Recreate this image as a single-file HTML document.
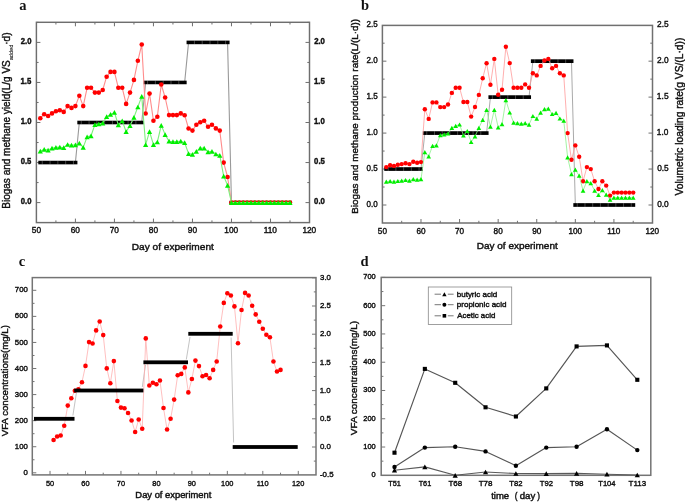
<!DOCTYPE html>
<html><head><meta charset="utf-8"><title>Figure</title>
<style>
html,body{margin:0;padding:0;background:#fff;width:685px;height:503px;overflow:hidden;}
svg{display:block;font-family:"Liberation Sans", sans-serif;} text{filter:grayscale(1);}
</style></head><body>
<svg width="685" height="503" viewBox="0 0 685 503">
<rect width="685" height="503" fill="#fff"/>
<rect x="36.4" y="22.3" width="273.1" height="200.3" fill="none" stroke="#6e6e6e" stroke-width="1.45"/>
<line x1="55.91" y1="222.6" x2="55.91" y2="220.4" stroke="#6e6e6e" stroke-width="1" />
<line x1="55.91" y1="22.3" x2="55.91" y2="24.5" stroke="#6e6e6e" stroke-width="1" />
<line x1="75.41" y1="222.6" x2="75.41" y2="218.6" stroke="#6e6e6e" stroke-width="1" />
<line x1="75.41" y1="22.3" x2="75.41" y2="26.3" stroke="#6e6e6e" stroke-width="1" />
<line x1="94.92" y1="222.6" x2="94.92" y2="220.4" stroke="#6e6e6e" stroke-width="1" />
<line x1="94.92" y1="22.3" x2="94.92" y2="24.5" stroke="#6e6e6e" stroke-width="1" />
<line x1="114.43" y1="222.6" x2="114.43" y2="218.6" stroke="#6e6e6e" stroke-width="1" />
<line x1="114.43" y1="22.3" x2="114.43" y2="26.3" stroke="#6e6e6e" stroke-width="1" />
<line x1="133.94" y1="222.6" x2="133.94" y2="220.4" stroke="#6e6e6e" stroke-width="1" />
<line x1="133.94" y1="22.3" x2="133.94" y2="24.5" stroke="#6e6e6e" stroke-width="1" />
<line x1="153.44" y1="222.6" x2="153.44" y2="218.6" stroke="#6e6e6e" stroke-width="1" />
<line x1="153.44" y1="22.3" x2="153.44" y2="26.3" stroke="#6e6e6e" stroke-width="1" />
<line x1="172.95" y1="222.6" x2="172.95" y2="220.4" stroke="#6e6e6e" stroke-width="1" />
<line x1="172.95" y1="22.3" x2="172.95" y2="24.5" stroke="#6e6e6e" stroke-width="1" />
<line x1="192.46" y1="222.6" x2="192.46" y2="218.6" stroke="#6e6e6e" stroke-width="1" />
<line x1="192.46" y1="22.3" x2="192.46" y2="26.3" stroke="#6e6e6e" stroke-width="1" />
<line x1="211.96" y1="222.6" x2="211.96" y2="220.4" stroke="#6e6e6e" stroke-width="1" />
<line x1="211.96" y1="22.3" x2="211.96" y2="24.5" stroke="#6e6e6e" stroke-width="1" />
<line x1="231.47" y1="222.6" x2="231.47" y2="218.6" stroke="#6e6e6e" stroke-width="1" />
<line x1="231.47" y1="22.3" x2="231.47" y2="26.3" stroke="#6e6e6e" stroke-width="1" />
<line x1="250.98" y1="222.6" x2="250.98" y2="220.4" stroke="#6e6e6e" stroke-width="1" />
<line x1="250.98" y1="22.3" x2="250.98" y2="24.5" stroke="#6e6e6e" stroke-width="1" />
<line x1="270.49" y1="222.6" x2="270.49" y2="218.6" stroke="#6e6e6e" stroke-width="1" />
<line x1="270.49" y1="22.3" x2="270.49" y2="26.3" stroke="#6e6e6e" stroke-width="1" />
<line x1="289.99" y1="222.6" x2="289.99" y2="220.4" stroke="#6e6e6e" stroke-width="1" />
<line x1="289.99" y1="22.3" x2="289.99" y2="24.5" stroke="#6e6e6e" stroke-width="1" />
<text x="31.77" y="233.3" font-size="8.31" font-weight="normal" fill="#111" stroke="#111" stroke-width="0.4">50</text>
<text x="70.74" y="233.3" font-size="8.31" font-weight="normal" fill="#111" stroke="#111" stroke-width="0.4">60</text>
<text x="109.75" y="233.3" font-size="8.31" font-weight="normal" fill="#111" stroke="#111" stroke-width="0.4">70</text>
<text x="148.8" y="233.3" font-size="8.31" font-weight="normal" fill="#111" stroke="#111" stroke-width="0.4">80</text>
<text x="187.79" y="233.3" font-size="8.31" font-weight="normal" fill="#111" stroke="#111" stroke-width="0.4">90</text>
<text x="224.37" y="233.3" font-size="8.31" font-weight="normal" fill="#111" stroke="#111" stroke-width="0.4">100</text>
<text x="263.7" y="233.3" font-size="8.31" font-weight="normal" fill="#111" stroke="#111" stroke-width="0.4">110</text>
<text x="302.4" y="233.3" font-size="8.31" font-weight="normal" fill="#111" stroke="#111" stroke-width="0.4">120</text>
<line x1="36.4" y1="202.6" x2="40.4" y2="202.6" stroke="#6e6e6e" stroke-width="1" />
<line x1="309.5" y1="202.6" x2="305.5" y2="202.6" stroke="#6e6e6e" stroke-width="1" />
<line x1="36.4" y1="182.57" x2="38.6" y2="182.57" stroke="#6e6e6e" stroke-width="1" />
<line x1="309.5" y1="182.57" x2="307.3" y2="182.57" stroke="#6e6e6e" stroke-width="1" />
<line x1="36.4" y1="162.55" x2="40.4" y2="162.55" stroke="#6e6e6e" stroke-width="1" />
<line x1="309.5" y1="162.55" x2="305.5" y2="162.55" stroke="#6e6e6e" stroke-width="1" />
<line x1="36.4" y1="142.53" x2="38.6" y2="142.53" stroke="#6e6e6e" stroke-width="1" />
<line x1="309.5" y1="142.53" x2="307.3" y2="142.53" stroke="#6e6e6e" stroke-width="1" />
<line x1="36.4" y1="122.5" x2="40.4" y2="122.5" stroke="#6e6e6e" stroke-width="1" />
<line x1="309.5" y1="122.5" x2="305.5" y2="122.5" stroke="#6e6e6e" stroke-width="1" />
<line x1="36.4" y1="102.47" x2="38.6" y2="102.47" stroke="#6e6e6e" stroke-width="1" />
<line x1="309.5" y1="102.47" x2="307.3" y2="102.47" stroke="#6e6e6e" stroke-width="1" />
<line x1="36.4" y1="82.45" x2="40.4" y2="82.45" stroke="#6e6e6e" stroke-width="1" />
<line x1="309.5" y1="82.45" x2="305.5" y2="82.45" stroke="#6e6e6e" stroke-width="1" />
<line x1="36.4" y1="62.43" x2="38.6" y2="62.43" stroke="#6e6e6e" stroke-width="1" />
<line x1="309.5" y1="62.43" x2="307.3" y2="62.43" stroke="#6e6e6e" stroke-width="1" />
<line x1="36.4" y1="42.4" x2="40.4" y2="42.4" stroke="#6e6e6e" stroke-width="1" />
<line x1="309.5" y1="42.4" x2="305.5" y2="42.4" stroke="#6e6e6e" stroke-width="1" />
<line x1="36.4" y1="22.38" x2="38.6" y2="22.38" stroke="#6e6e6e" stroke-width="1" />
<line x1="309.5" y1="22.38" x2="307.3" y2="22.38" stroke="#6e6e6e" stroke-width="1" />
<text x="20.73" y="204.4" font-size="8.17" font-weight="bold" fill="#111" stroke="#111" stroke-width="0.4" textLength="10.69" lengthAdjust="spacingAndGlyphs">0.0</text>
<text x="314.09" y="204.4" font-size="8.17" font-weight="bold" fill="#111" stroke="#111" stroke-width="0.4" textLength="10.79" lengthAdjust="spacingAndGlyphs">0.0</text>
<text x="20.63" y="164.35" font-size="8.17" font-weight="bold" fill="#111" stroke="#111" stroke-width="0.4" textLength="10.69" lengthAdjust="spacingAndGlyphs">0.5</text>
<text x="314.09" y="164.35" font-size="8.17" font-weight="bold" fill="#111" stroke="#111" stroke-width="0.4" textLength="10.79" lengthAdjust="spacingAndGlyphs">0.5</text>
<text x="20.73" y="124.3" font-size="8.17" font-weight="bold" fill="#111" stroke="#111" stroke-width="0.4" textLength="10.69" lengthAdjust="spacingAndGlyphs">1.0</text>
<text x="313.91" y="124.3" font-size="8.17" font-weight="bold" fill="#111" stroke="#111" stroke-width="0.4" textLength="10.79" lengthAdjust="spacingAndGlyphs">1.0</text>
<text x="20.48" y="84.25" font-size="8.28" font-weight="bold" fill="#111" stroke="#111" stroke-width="0.4" textLength="10.84" lengthAdjust="spacingAndGlyphs">1.5</text>
<text x="313.9" y="84.25" font-size="8.28" font-weight="bold" fill="#111" stroke="#111" stroke-width="0.4" textLength="10.95" lengthAdjust="spacingAndGlyphs">1.5</text>
<text x="20.73" y="44.2" font-size="8.17" font-weight="bold" fill="#111" stroke="#111" stroke-width="0.4" textLength="10.69" lengthAdjust="spacingAndGlyphs">2.0</text>
<text x="314.13" y="44.2" font-size="8.17" font-weight="bold" fill="#111" stroke="#111" stroke-width="0.4" textLength="10.79" lengthAdjust="spacingAndGlyphs">2.0</text>
<text x="131.77" y="249.5" font-size="9.16" font-weight="normal" fill="#111" stroke="#111" stroke-width="0.4" textLength="82.1" lengthAdjust="spacingAndGlyphs">Day of experiment</text>
<text transform="translate(9.5 120.6) rotate(-90)" font-size="10" font-family='"Liberation Sans", sans-serif' fill="#111" stroke="#111" stroke-width="0.4" text-anchor="middle">Biogas and methane yield(L/g VS<tspan font-size="5.6" dy="3.4" stroke-width="0.1">added</tspan><tspan dy="-3.4">&#183;d)</tspan></text>
<text x="19.2" y="9.9" font-size="14.5" text-anchor="start" font-weight="bold" font-family='"Liberation Serif", serif' fill="#111" >a</text>
<polyline fill="none" stroke="#999" stroke-width="1.1" stroke-linejoin="round" points="40.3,162.55 44.2,162.55 48.1,162.55 52.01,162.55 55.91,162.55 59.81,162.55 63.71,162.55 67.61,162.55 71.51,162.55 75.41,162.55 79.32,122.5 83.22,122.5 87.12,122.5 91.02,122.5 94.92,122.5 98.82,122.5 102.72,122.5 106.63,122.5 110.53,122.5 114.43,122.5 118.33,122.5 122.23,122.5 126.13,122.5 130.03,122.5 133.94,122.5 137.84,122.5 141.74,122.5 145.64,82.45 149.54,82.45 153.44,82.45 157.34,82.45 161.25,82.45 165.15,82.45 169.05,82.45 172.95,82.45 176.85,82.45 180.75,82.45 184.65,82.45 188.56,42.4 192.46,42.4 196.36,42.4 200.26,42.4 204.16,42.4 208.06,42.4 211.96,42.4 215.87,42.4 219.77,42.4 223.67,42.4 227.57,42.4 231.47,202.6 235.37,202.6 239.27,202.6 243.18,202.6 247.08,202.6 250.98,202.6 254.88,202.6 258.78,202.6 262.68,202.6 266.58,202.6 270.49,202.6 274.39,202.6 278.29,202.6 282.19,202.6 286.09,202.6 289.99,202.6" />
<rect x="38.3" y="160.75" width="39.11" height="3.6" fill="#000"/>
<line x1="42.25" y1="160.75" x2="42.25" y2="164.35" stroke="#fff" stroke-opacity="0.45" stroke-width="0.6"/>
<line x1="50.05" y1="160.75" x2="50.05" y2="164.35" stroke="#fff" stroke-opacity="0.45" stroke-width="0.6"/>
<line x1="57.86" y1="160.75" x2="57.86" y2="164.35" stroke="#fff" stroke-opacity="0.45" stroke-width="0.6"/>
<line x1="65.66" y1="160.75" x2="65.66" y2="164.35" stroke="#fff" stroke-opacity="0.45" stroke-width="0.6"/>
<line x1="73.46" y1="160.75" x2="73.46" y2="164.35" stroke="#fff" stroke-opacity="0.45" stroke-width="0.6"/>
<rect x="77.32" y="120.7" width="66.42" height="3.6" fill="#000"/>
<line x1="81.27" y1="120.7" x2="81.27" y2="124.3" stroke="#fff" stroke-opacity="0.45" stroke-width="0.6"/>
<line x1="89.07" y1="120.7" x2="89.07" y2="124.3" stroke="#fff" stroke-opacity="0.45" stroke-width="0.6"/>
<line x1="96.87" y1="120.7" x2="96.87" y2="124.3" stroke="#fff" stroke-opacity="0.45" stroke-width="0.6"/>
<line x1="104.67" y1="120.7" x2="104.67" y2="124.3" stroke="#fff" stroke-opacity="0.45" stroke-width="0.6"/>
<line x1="112.48" y1="120.7" x2="112.48" y2="124.3" stroke="#fff" stroke-opacity="0.45" stroke-width="0.6"/>
<line x1="120.28" y1="120.7" x2="120.28" y2="124.3" stroke="#fff" stroke-opacity="0.45" stroke-width="0.6"/>
<line x1="128.08" y1="120.7" x2="128.08" y2="124.3" stroke="#fff" stroke-opacity="0.45" stroke-width="0.6"/>
<line x1="135.89" y1="120.7" x2="135.89" y2="124.3" stroke="#fff" stroke-opacity="0.45" stroke-width="0.6"/>
<rect x="143.64" y="80.65" width="43.01" height="3.6" fill="#000"/>
<line x1="147.59" y1="80.65" x2="147.59" y2="84.25" stroke="#fff" stroke-opacity="0.45" stroke-width="0.6"/>
<line x1="155.39" y1="80.65" x2="155.39" y2="84.25" stroke="#fff" stroke-opacity="0.45" stroke-width="0.6"/>
<line x1="163.2" y1="80.65" x2="163.2" y2="84.25" stroke="#fff" stroke-opacity="0.45" stroke-width="0.6"/>
<line x1="171" y1="80.65" x2="171" y2="84.25" stroke="#fff" stroke-opacity="0.45" stroke-width="0.6"/>
<line x1="178.8" y1="80.65" x2="178.8" y2="84.25" stroke="#fff" stroke-opacity="0.45" stroke-width="0.6"/>
<rect x="186.56" y="40.6" width="43.01" height="3.6" fill="#000"/>
<line x1="194.41" y1="40.6" x2="194.41" y2="44.2" stroke="#fff" stroke-opacity="0.45" stroke-width="0.6"/>
<line x1="202.21" y1="40.6" x2="202.21" y2="44.2" stroke="#fff" stroke-opacity="0.45" stroke-width="0.6"/>
<line x1="210.01" y1="40.6" x2="210.01" y2="44.2" stroke="#fff" stroke-opacity="0.45" stroke-width="0.6"/>
<line x1="217.82" y1="40.6" x2="217.82" y2="44.2" stroke="#fff" stroke-opacity="0.45" stroke-width="0.6"/>
<line x1="225.62" y1="40.6" x2="225.62" y2="44.2" stroke="#fff" stroke-opacity="0.45" stroke-width="0.6"/>
<rect x="229.47" y="200.8" width="62.52" height="3.6" fill="#000"/>
<line x1="233.42" y1="200.8" x2="233.42" y2="204.4" stroke="#fff" stroke-opacity="0.45" stroke-width="0.6"/>
<line x1="241.23" y1="200.8" x2="241.23" y2="204.4" stroke="#fff" stroke-opacity="0.45" stroke-width="0.6"/>
<line x1="249.03" y1="200.8" x2="249.03" y2="204.4" stroke="#fff" stroke-opacity="0.45" stroke-width="0.6"/>
<line x1="256.83" y1="200.8" x2="256.83" y2="204.4" stroke="#fff" stroke-opacity="0.45" stroke-width="0.6"/>
<line x1="264.63" y1="200.8" x2="264.63" y2="204.4" stroke="#fff" stroke-opacity="0.45" stroke-width="0.6"/>
<line x1="272.44" y1="200.8" x2="272.44" y2="204.4" stroke="#fff" stroke-opacity="0.45" stroke-width="0.6"/>
<line x1="280.24" y1="200.8" x2="280.24" y2="204.4" stroke="#fff" stroke-opacity="0.45" stroke-width="0.6"/>
<line x1="288.04" y1="200.8" x2="288.04" y2="204.4" stroke="#fff" stroke-opacity="0.45" stroke-width="0.6"/>
<polyline fill="none" stroke="#ff8c8c" stroke-width="1.1" stroke-linejoin="round" points="40.3,118.2 44.2,114.2 48.1,116 52.01,113.4 55.91,111.3 59.81,110.3 63.71,111.9 67.61,106.1 71.51,107.9 75.41,106.1 79.32,95.8 83.22,106.1 87.12,87.8 91.02,87.8 94.92,92.6 98.82,92.6 102.72,90 106.63,76.7 110.53,71.9 114.43,71.9 118.33,87.8 122.23,87.8 126.13,103.9 130.03,92.6 133.94,79.9 137.84,60.8 141.74,44.5 145.64,113.5 149.54,93.6 153.44,120.7 157.34,116.7 161.25,84.5 165.15,97.5 169.05,115.1 172.95,115.1 176.85,115.1 180.75,113.4 184.65,115.2 188.56,128.5 192.46,130.6 196.36,124.7 200.26,122.3 204.16,120.8 208.06,126.7 211.96,124.7 215.87,128.4 219.77,130.6 223.67,162.6 227.57,177 231.47,202.6 235.37,202.6 239.27,202.6 243.18,202.6 247.08,202.6 250.98,202.6 254.88,202.6 258.78,202.6 262.68,202.6 266.58,202.6 270.49,202.6 274.39,202.6 278.29,202.6 282.19,202.6 286.09,202.6 289.99,202.6" />
<circle cx="40.3" cy="118.2" r="2.3" fill="#ff0000"/>
<circle cx="44.2" cy="114.2" r="2.3" fill="#ff0000"/>
<circle cx="48.1" cy="116" r="2.3" fill="#ff0000"/>
<circle cx="52.01" cy="113.4" r="2.3" fill="#ff0000"/>
<circle cx="55.91" cy="111.3" r="2.3" fill="#ff0000"/>
<circle cx="59.81" cy="110.3" r="2.3" fill="#ff0000"/>
<circle cx="63.71" cy="111.9" r="2.3" fill="#ff0000"/>
<circle cx="67.61" cy="106.1" r="2.3" fill="#ff0000"/>
<circle cx="71.51" cy="107.9" r="2.3" fill="#ff0000"/>
<circle cx="75.41" cy="106.1" r="2.3" fill="#ff0000"/>
<circle cx="79.32" cy="95.8" r="2.3" fill="#ff0000"/>
<circle cx="83.22" cy="106.1" r="2.3" fill="#ff0000"/>
<circle cx="87.12" cy="87.8" r="2.3" fill="#ff0000"/>
<circle cx="91.02" cy="87.8" r="2.3" fill="#ff0000"/>
<circle cx="94.92" cy="92.6" r="2.3" fill="#ff0000"/>
<circle cx="98.82" cy="92.6" r="2.3" fill="#ff0000"/>
<circle cx="102.72" cy="90" r="2.3" fill="#ff0000"/>
<circle cx="106.63" cy="76.7" r="2.3" fill="#ff0000"/>
<circle cx="110.53" cy="71.9" r="2.3" fill="#ff0000"/>
<circle cx="114.43" cy="71.9" r="2.3" fill="#ff0000"/>
<circle cx="118.33" cy="87.8" r="2.3" fill="#ff0000"/>
<circle cx="122.23" cy="87.8" r="2.3" fill="#ff0000"/>
<circle cx="126.13" cy="103.9" r="2.3" fill="#ff0000"/>
<circle cx="130.03" cy="92.6" r="2.3" fill="#ff0000"/>
<circle cx="133.94" cy="79.9" r="2.3" fill="#ff0000"/>
<circle cx="137.84" cy="60.8" r="2.3" fill="#ff0000"/>
<circle cx="141.74" cy="44.5" r="2.3" fill="#ff0000"/>
<circle cx="145.64" cy="113.5" r="2.3" fill="#ff0000"/>
<circle cx="149.54" cy="93.6" r="2.3" fill="#ff0000"/>
<circle cx="153.44" cy="120.7" r="2.3" fill="#ff0000"/>
<circle cx="157.34" cy="116.7" r="2.3" fill="#ff0000"/>
<circle cx="161.25" cy="84.5" r="2.3" fill="#ff0000"/>
<circle cx="165.15" cy="97.5" r="2.3" fill="#ff0000"/>
<circle cx="169.05" cy="115.1" r="2.3" fill="#ff0000"/>
<circle cx="172.95" cy="115.1" r="2.3" fill="#ff0000"/>
<circle cx="176.85" cy="115.1" r="2.3" fill="#ff0000"/>
<circle cx="180.75" cy="113.4" r="2.3" fill="#ff0000"/>
<circle cx="184.65" cy="115.2" r="2.3" fill="#ff0000"/>
<circle cx="188.56" cy="128.5" r="2.3" fill="#ff0000"/>
<circle cx="192.46" cy="130.6" r="2.3" fill="#ff0000"/>
<circle cx="196.36" cy="124.7" r="2.3" fill="#ff0000"/>
<circle cx="200.26" cy="122.3" r="2.3" fill="#ff0000"/>
<circle cx="204.16" cy="120.8" r="2.3" fill="#ff0000"/>
<circle cx="208.06" cy="126.7" r="2.3" fill="#ff0000"/>
<circle cx="211.96" cy="124.7" r="2.3" fill="#ff0000"/>
<circle cx="215.87" cy="128.4" r="2.3" fill="#ff0000"/>
<circle cx="219.77" cy="130.6" r="2.3" fill="#ff0000"/>
<circle cx="223.67" cy="162.6" r="2.3" fill="#ff0000"/>
<circle cx="227.57" cy="177" r="2.3" fill="#ff0000"/>
<circle cx="231.47" cy="202.6" r="2.3" fill="#ff0000"/>
<circle cx="235.37" cy="202.6" r="2.3" fill="#ff0000"/>
<circle cx="239.27" cy="202.6" r="2.3" fill="#ff0000"/>
<circle cx="243.18" cy="202.6" r="2.3" fill="#ff0000"/>
<circle cx="247.08" cy="202.6" r="2.3" fill="#ff0000"/>
<circle cx="250.98" cy="202.6" r="2.3" fill="#ff0000"/>
<circle cx="254.88" cy="202.6" r="2.3" fill="#ff0000"/>
<circle cx="258.78" cy="202.6" r="2.3" fill="#ff0000"/>
<circle cx="262.68" cy="202.6" r="2.3" fill="#ff0000"/>
<circle cx="266.58" cy="202.6" r="2.3" fill="#ff0000"/>
<circle cx="270.49" cy="202.6" r="2.3" fill="#ff0000"/>
<circle cx="274.39" cy="202.6" r="2.3" fill="#ff0000"/>
<circle cx="278.29" cy="202.6" r="2.3" fill="#ff0000"/>
<circle cx="282.19" cy="202.6" r="2.3" fill="#ff0000"/>
<circle cx="286.09" cy="202.6" r="2.3" fill="#ff0000"/>
<circle cx="289.99" cy="202.6" r="2.3" fill="#ff0000"/>
<polyline fill="none" stroke="#7cf07c" stroke-width="1.1" stroke-linejoin="round" points="40.3,151.2 44.2,149.3 48.1,150.1 52.01,148.2 55.91,147.4 59.81,147.1 63.71,147.7 67.61,144.5 71.51,145.2 75.41,144.8 79.32,143.2 83.22,147.4 87.12,136.9 91.02,135.8 94.92,124.6 98.82,123.9 102.72,123.1 106.63,116.7 110.53,114.4 114.43,112.4 118.33,124.8 122.23,120.9 126.13,131.7 130.03,125.6 133.94,117.4 137.84,107 141.74,96.4 145.64,144.7 149.54,131.7 153.44,144.7 157.34,142 161.25,125.3 165.15,134.6 169.05,141.2 172.95,141.6 176.85,141.6 180.75,141.2 184.65,142.7 188.56,153.6 192.46,154.3 196.36,151.4 200.26,148.1 204.16,148.1 208.06,151.8 211.96,151.4 215.87,154 219.77,155.3 223.67,176.1 227.57,185.3 231.47,202.6 235.37,202.6 239.27,202.6 243.18,202.6 247.08,202.6 250.98,202.6 254.88,202.6 258.78,202.6 262.68,202.6 266.58,202.6 270.49,202.6 274.39,202.6 278.29,202.6 282.19,202.6 286.09,202.6 289.99,202.6" />
<path d="M40.3 148.86L42.9 153.54L37.7 153.54Z" fill="#00ee00"/>
<path d="M44.2 146.96L46.8 151.64L41.6 151.64Z" fill="#00ee00"/>
<path d="M48.1 147.76L50.7 152.44L45.5 152.44Z" fill="#00ee00"/>
<path d="M52.01 145.86L54.61 150.54L49.41 150.54Z" fill="#00ee00"/>
<path d="M55.91 145.06L58.51 149.74L53.31 149.74Z" fill="#00ee00"/>
<path d="M59.81 144.76L62.41 149.44L57.21 149.44Z" fill="#00ee00"/>
<path d="M63.71 145.36L66.31 150.04L61.11 150.04Z" fill="#00ee00"/>
<path d="M67.61 142.16L70.21 146.84L65.01 146.84Z" fill="#00ee00"/>
<path d="M71.51 142.86L74.11 147.54L68.91 147.54Z" fill="#00ee00"/>
<path d="M75.41 142.46L78.01 147.14L72.81 147.14Z" fill="#00ee00"/>
<path d="M79.32 140.86L81.92 145.54L76.72 145.54Z" fill="#00ee00"/>
<path d="M83.22 145.06L85.82 149.74L80.62 149.74Z" fill="#00ee00"/>
<path d="M87.12 134.56L89.72 139.24L84.52 139.24Z" fill="#00ee00"/>
<path d="M91.02 133.46L93.62 138.14L88.42 138.14Z" fill="#00ee00"/>
<path d="M94.92 122.26L97.52 126.94L92.32 126.94Z" fill="#00ee00"/>
<path d="M98.82 121.56L101.42 126.24L96.22 126.24Z" fill="#00ee00"/>
<path d="M102.72 120.76L105.32 125.44L100.12 125.44Z" fill="#00ee00"/>
<path d="M106.63 114.36L109.23 119.04L104.03 119.04Z" fill="#00ee00"/>
<path d="M110.53 112.06L113.13 116.74L107.93 116.74Z" fill="#00ee00"/>
<path d="M114.43 110.06L117.03 114.74L111.83 114.74Z" fill="#00ee00"/>
<path d="M118.33 122.46L120.93 127.14L115.73 127.14Z" fill="#00ee00"/>
<path d="M122.23 118.56L124.83 123.24L119.63 123.24Z" fill="#00ee00"/>
<path d="M126.13 129.36L128.73 134.04L123.53 134.04Z" fill="#00ee00"/>
<path d="M130.03 123.26L132.63 127.94L127.43 127.94Z" fill="#00ee00"/>
<path d="M133.94 115.06L136.54 119.74L131.34 119.74Z" fill="#00ee00"/>
<path d="M137.84 104.66L140.44 109.34L135.24 109.34Z" fill="#00ee00"/>
<path d="M141.74 94.06L144.34 98.74L139.14 98.74Z" fill="#00ee00"/>
<path d="M145.64 142.36L148.24 147.04L143.04 147.04Z" fill="#00ee00"/>
<path d="M149.54 129.36L152.14 134.04L146.94 134.04Z" fill="#00ee00"/>
<path d="M153.44 142.36L156.04 147.04L150.84 147.04Z" fill="#00ee00"/>
<path d="M157.34 139.66L159.94 144.34L154.74 144.34Z" fill="#00ee00"/>
<path d="M161.25 122.96L163.85 127.64L158.65 127.64Z" fill="#00ee00"/>
<path d="M165.15 132.26L167.75 136.94L162.55 136.94Z" fill="#00ee00"/>
<path d="M169.05 138.86L171.65 143.54L166.45 143.54Z" fill="#00ee00"/>
<path d="M172.95 139.26L175.55 143.94L170.35 143.94Z" fill="#00ee00"/>
<path d="M176.85 139.26L179.45 143.94L174.25 143.94Z" fill="#00ee00"/>
<path d="M180.75 138.86L183.35 143.54L178.15 143.54Z" fill="#00ee00"/>
<path d="M184.65 140.36L187.25 145.04L182.05 145.04Z" fill="#00ee00"/>
<path d="M188.56 151.26L191.16 155.94L185.96 155.94Z" fill="#00ee00"/>
<path d="M192.46 151.96L195.06 156.64L189.86 156.64Z" fill="#00ee00"/>
<path d="M196.36 149.06L198.96 153.74L193.76 153.74Z" fill="#00ee00"/>
<path d="M200.26 145.76L202.86 150.44L197.66 150.44Z" fill="#00ee00"/>
<path d="M204.16 145.76L206.76 150.44L201.56 150.44Z" fill="#00ee00"/>
<path d="M208.06 149.46L210.66 154.14L205.46 154.14Z" fill="#00ee00"/>
<path d="M211.96 149.06L214.56 153.74L209.36 153.74Z" fill="#00ee00"/>
<path d="M215.87 151.66L218.47 156.34L213.27 156.34Z" fill="#00ee00"/>
<path d="M219.77 152.96L222.37 157.64L217.17 157.64Z" fill="#00ee00"/>
<path d="M223.67 173.76L226.27 178.44L221.07 178.44Z" fill="#00ee00"/>
<path d="M227.57 182.96L230.17 187.64L224.97 187.64Z" fill="#00ee00"/>
<path d="M231.47 200.26L234.07 204.94L228.87 204.94Z" fill="#00ee00"/>
<path d="M235.37 200.26L237.97 204.94L232.77 204.94Z" fill="#00ee00"/>
<path d="M239.27 200.26L241.87 204.94L236.67 204.94Z" fill="#00ee00"/>
<path d="M243.18 200.26L245.78 204.94L240.58 204.94Z" fill="#00ee00"/>
<path d="M247.08 200.26L249.68 204.94L244.48 204.94Z" fill="#00ee00"/>
<path d="M250.98 200.26L253.58 204.94L248.38 204.94Z" fill="#00ee00"/>
<path d="M254.88 200.26L257.48 204.94L252.28 204.94Z" fill="#00ee00"/>
<path d="M258.78 200.26L261.38 204.94L256.18 204.94Z" fill="#00ee00"/>
<path d="M262.68 200.26L265.28 204.94L260.08 204.94Z" fill="#00ee00"/>
<path d="M266.58 200.26L269.18 204.94L263.98 204.94Z" fill="#00ee00"/>
<path d="M270.49 200.26L273.09 204.94L267.89 204.94Z" fill="#00ee00"/>
<path d="M274.39 200.26L276.99 204.94L271.79 204.94Z" fill="#00ee00"/>
<path d="M278.29 200.26L280.89 204.94L275.69 204.94Z" fill="#00ee00"/>
<path d="M282.19 200.26L284.79 204.94L279.59 204.94Z" fill="#00ee00"/>
<path d="M286.09 200.26L288.69 204.94L283.49 204.94Z" fill="#00ee00"/>
<path d="M289.99 200.26L292.59 204.94L287.39 204.94Z" fill="#00ee00"/>
<rect x="382.4" y="25.4" width="270.1" height="197.6" fill="none" stroke="#707070" stroke-width="1.5"/>
<line x1="401.69" y1="223" x2="401.69" y2="220.8" stroke="#707070" stroke-width="1" />
<line x1="420.99" y1="223" x2="420.99" y2="219" stroke="#707070" stroke-width="1" />
<line x1="440.28" y1="223" x2="440.28" y2="220.8" stroke="#707070" stroke-width="1" />
<line x1="459.57" y1="223" x2="459.57" y2="219" stroke="#707070" stroke-width="1" />
<line x1="478.86" y1="223" x2="478.86" y2="220.8" stroke="#707070" stroke-width="1" />
<line x1="498.16" y1="223" x2="498.16" y2="219" stroke="#707070" stroke-width="1" />
<line x1="517.45" y1="223" x2="517.45" y2="220.8" stroke="#707070" stroke-width="1" />
<line x1="536.74" y1="223" x2="536.74" y2="219" stroke="#707070" stroke-width="1" />
<line x1="556.04" y1="223" x2="556.04" y2="220.8" stroke="#707070" stroke-width="1" />
<line x1="575.33" y1="223" x2="575.33" y2="219" stroke="#707070" stroke-width="1" />
<line x1="594.62" y1="223" x2="594.62" y2="220.8" stroke="#707070" stroke-width="1" />
<line x1="613.91" y1="223" x2="613.91" y2="219" stroke="#707070" stroke-width="1" />
<line x1="633.21" y1="223" x2="633.21" y2="220.8" stroke="#707070" stroke-width="1" />
<text x="377.86" y="234.2" font-size="8.17" font-weight="normal" fill="#111" stroke="#111" stroke-width="0.4">50</text>
<text x="416.4" y="234.2" font-size="8.17" font-weight="normal" fill="#111" stroke="#111" stroke-width="0.4">60</text>
<text x="454.99" y="234.2" font-size="8.17" font-weight="normal" fill="#111" stroke="#111" stroke-width="0.4">70</text>
<text x="493.61" y="234.2" font-size="8.17" font-weight="normal" fill="#111" stroke="#111" stroke-width="0.4">80</text>
<text x="532.18" y="234.2" font-size="8.17" font-weight="normal" fill="#111" stroke="#111" stroke-width="0.4">90</text>
<text x="568.38" y="234.2" font-size="8.17" font-weight="normal" fill="#111" stroke="#111" stroke-width="0.4">100</text>
<text x="607.26" y="234.2" font-size="8.17" font-weight="normal" fill="#111" stroke="#111" stroke-width="0.4">110</text>
<text x="645.55" y="234.2" font-size="8.17" font-weight="normal" fill="#111" stroke="#111" stroke-width="0.4">120</text>
<line x1="382.4" y1="205" x2="386.4" y2="205" stroke="#707070" stroke-width="1" />
<line x1="652.5" y1="205" x2="648.5" y2="205" stroke="#707070" stroke-width="1" />
<line x1="382.4" y1="187.02" x2="384.6" y2="187.02" stroke="#707070" stroke-width="1" />
<line x1="652.5" y1="187.02" x2="650.3" y2="187.02" stroke="#707070" stroke-width="1" />
<line x1="382.4" y1="169.04" x2="386.4" y2="169.04" stroke="#707070" stroke-width="1" />
<line x1="652.5" y1="169.04" x2="648.5" y2="169.04" stroke="#707070" stroke-width="1" />
<line x1="382.4" y1="151.06" x2="384.6" y2="151.06" stroke="#707070" stroke-width="1" />
<line x1="652.5" y1="151.06" x2="650.3" y2="151.06" stroke="#707070" stroke-width="1" />
<line x1="382.4" y1="133.08" x2="386.4" y2="133.08" stroke="#707070" stroke-width="1" />
<line x1="652.5" y1="133.08" x2="648.5" y2="133.08" stroke="#707070" stroke-width="1" />
<line x1="382.4" y1="115.1" x2="384.6" y2="115.1" stroke="#707070" stroke-width="1" />
<line x1="652.5" y1="115.1" x2="650.3" y2="115.1" stroke="#707070" stroke-width="1" />
<line x1="382.4" y1="97.12" x2="386.4" y2="97.12" stroke="#707070" stroke-width="1" />
<line x1="652.5" y1="97.12" x2="648.5" y2="97.12" stroke="#707070" stroke-width="1" />
<line x1="382.4" y1="79.14" x2="384.6" y2="79.14" stroke="#707070" stroke-width="1" />
<line x1="652.5" y1="79.14" x2="650.3" y2="79.14" stroke="#707070" stroke-width="1" />
<line x1="382.4" y1="61.16" x2="386.4" y2="61.16" stroke="#707070" stroke-width="1" />
<line x1="652.5" y1="61.16" x2="648.5" y2="61.16" stroke="#707070" stroke-width="1" />
<line x1="382.4" y1="43.18" x2="384.6" y2="43.18" stroke="#707070" stroke-width="1" />
<line x1="652.5" y1="43.18" x2="650.3" y2="43.18" stroke="#707070" stroke-width="1" />
<text x="366.56" y="207" font-size="8.88" font-weight="normal" fill="#111" stroke="#111" stroke-width="0.4" textLength="11.15" lengthAdjust="spacingAndGlyphs">0.0</text>
<text x="657.18" y="207" font-size="8.88" font-weight="normal" fill="#111" stroke="#111" stroke-width="0.4" textLength="11.57" lengthAdjust="spacingAndGlyphs">0.0</text>
<text x="366.59" y="171.04" font-size="8.88" font-weight="normal" fill="#111" stroke="#111" stroke-width="0.4" textLength="11.15" lengthAdjust="spacingAndGlyphs">0.5</text>
<text x="657.18" y="171.04" font-size="8.88" font-weight="normal" fill="#111" stroke="#111" stroke-width="0.4" textLength="11.57" lengthAdjust="spacingAndGlyphs">0.5</text>
<text x="366.56" y="135.08" font-size="8.88" font-weight="normal" fill="#111" stroke="#111" stroke-width="0.4" textLength="11.15" lengthAdjust="spacingAndGlyphs">1.0</text>
<text x="656.87" y="135.08" font-size="8.88" font-weight="normal" fill="#111" stroke="#111" stroke-width="0.4" textLength="11.57" lengthAdjust="spacingAndGlyphs">1.0</text>
<text x="366.43" y="99.12" font-size="9.01" font-weight="normal" fill="#111" stroke="#111" stroke-width="0.4" textLength="11.31" lengthAdjust="spacingAndGlyphs">1.5</text>
<text x="656.86" y="99.12" font-size="9.01" font-weight="normal" fill="#111" stroke="#111" stroke-width="0.4" textLength="11.73" lengthAdjust="spacingAndGlyphs">1.5</text>
<text x="366.56" y="63.16" font-size="8.88" font-weight="normal" fill="#111" stroke="#111" stroke-width="0.4" textLength="11.15" lengthAdjust="spacingAndGlyphs">2.0</text>
<text x="657.08" y="63.16" font-size="8.88" font-weight="normal" fill="#111" stroke="#111" stroke-width="0.4" textLength="11.57" lengthAdjust="spacingAndGlyphs">2.0</text>
<text x="366.59" y="27.2" font-size="8.88" font-weight="normal" fill="#111" stroke="#111" stroke-width="0.4" textLength="11.15" lengthAdjust="spacingAndGlyphs">2.5</text>
<text x="657.08" y="27.2" font-size="8.88" font-weight="normal" fill="#111" stroke="#111" stroke-width="0.4" textLength="11.57" lengthAdjust="spacingAndGlyphs">2.5</text>
<text x="476.78" y="248.5" font-size="8.87" font-weight="normal" fill="#111" stroke="#111" stroke-width="0.4" textLength="80.99" lengthAdjust="spacingAndGlyphs">Day of experiment</text>
<text transform="translate(357.6 116.4) rotate(-90)" font-size="9.9" font-family='"Liberation Sans", sans-serif' fill="#111" stroke="#111" stroke-width="0.4" text-anchor="middle">Biogas and methane production rate(L/(L&#183;d))</text>
<text transform="translate(683.4 116.5) rotate(-90)" font-size="10.25" font-family='"Liberation Sans", sans-serif' fill="#111" stroke="#111" stroke-width="0.4" text-anchor="middle">Volumetric loading rate(g VS/(L&#183;d))</text>
<text x="360.9" y="10.1" font-size="14.5" text-anchor="start" font-weight="bold" font-family='"Liberation Serif", serif' fill="#111" >b</text>
<polyline fill="none" stroke="#aaa" stroke-width="1" stroke-linejoin="round" points="386.26,169.04 390.12,169.04 393.98,169.04 397.83,169.04 401.69,169.04 405.55,169.04 409.41,169.04 413.27,169.04 417.13,169.04 420.99,169.04 424.84,133.08 428.7,133.08 432.56,133.08 436.42,133.08 440.28,133.08 444.14,133.08 448,133.08 451.85,133.08 455.71,133.08 459.57,133.08 463.43,133.08 467.29,133.08 471.15,133.08 475.01,133.08 478.86,133.08 482.72,133.08 486.58,133.08 490.44,97.12 494.3,97.12 498.16,97.12 502.02,97.12 505.87,97.12 509.73,97.12 513.59,97.12 517.45,97.12 521.31,97.12 525.17,97.12 529.03,97.12 532.88,61.16 536.74,61.16 540.6,61.16 544.46,61.16 548.32,61.16 552.18,61.16 556.04,61.16 559.89,61.16 563.75,61.16 567.61,61.16 571.47,61.16 575.33,205 579.19,205 583.05,205 586.9,205 590.76,205 594.62,205 598.48,205 602.34,205 606.2,205 610.06,205 613.91,205 617.77,205 621.63,205 625.49,205 629.35,205 633.21,205" />
<rect x="384.26" y="167.19" width="38.73" height="3.7" fill="#000"/>
<line x1="388.19" y1="167.19" x2="388.19" y2="170.89" stroke="#fff" stroke-opacity="0.45" stroke-width="0.6"/>
<line x1="395.9" y1="167.19" x2="395.9" y2="170.89" stroke="#fff" stroke-opacity="0.45" stroke-width="0.6"/>
<line x1="403.62" y1="167.19" x2="403.62" y2="170.89" stroke="#fff" stroke-opacity="0.45" stroke-width="0.6"/>
<line x1="411.34" y1="167.19" x2="411.34" y2="170.89" stroke="#fff" stroke-opacity="0.45" stroke-width="0.6"/>
<line x1="419.06" y1="167.19" x2="419.06" y2="170.89" stroke="#fff" stroke-opacity="0.45" stroke-width="0.6"/>
<rect x="422.84" y="131.23" width="65.74" height="3.7" fill="#000"/>
<line x1="426.77" y1="131.23" x2="426.77" y2="134.93" stroke="#fff" stroke-opacity="0.45" stroke-width="0.6"/>
<line x1="434.49" y1="131.23" x2="434.49" y2="134.93" stroke="#fff" stroke-opacity="0.45" stroke-width="0.6"/>
<line x1="442.21" y1="131.23" x2="442.21" y2="134.93" stroke="#fff" stroke-opacity="0.45" stroke-width="0.6"/>
<line x1="449.92" y1="131.23" x2="449.92" y2="134.93" stroke="#fff" stroke-opacity="0.45" stroke-width="0.6"/>
<line x1="457.64" y1="131.23" x2="457.64" y2="134.93" stroke="#fff" stroke-opacity="0.45" stroke-width="0.6"/>
<line x1="465.36" y1="131.23" x2="465.36" y2="134.93" stroke="#fff" stroke-opacity="0.45" stroke-width="0.6"/>
<line x1="473.08" y1="131.23" x2="473.08" y2="134.93" stroke="#fff" stroke-opacity="0.45" stroke-width="0.6"/>
<line x1="480.79" y1="131.23" x2="480.79" y2="134.93" stroke="#fff" stroke-opacity="0.45" stroke-width="0.6"/>
<rect x="488.44" y="95.27" width="42.59" height="3.7" fill="#000"/>
<line x1="492.37" y1="95.27" x2="492.37" y2="98.97" stroke="#fff" stroke-opacity="0.45" stroke-width="0.6"/>
<line x1="500.09" y1="95.27" x2="500.09" y2="98.97" stroke="#fff" stroke-opacity="0.45" stroke-width="0.6"/>
<line x1="507.8" y1="95.27" x2="507.8" y2="98.97" stroke="#fff" stroke-opacity="0.45" stroke-width="0.6"/>
<line x1="515.52" y1="95.27" x2="515.52" y2="98.97" stroke="#fff" stroke-opacity="0.45" stroke-width="0.6"/>
<line x1="523.24" y1="95.27" x2="523.24" y2="98.97" stroke="#fff" stroke-opacity="0.45" stroke-width="0.6"/>
<rect x="530.88" y="59.31" width="42.59" height="3.7" fill="#000"/>
<line x1="534.81" y1="59.31" x2="534.81" y2="63.01" stroke="#fff" stroke-opacity="0.45" stroke-width="0.6"/>
<line x1="542.53" y1="59.31" x2="542.53" y2="63.01" stroke="#fff" stroke-opacity="0.45" stroke-width="0.6"/>
<line x1="550.25" y1="59.31" x2="550.25" y2="63.01" stroke="#fff" stroke-opacity="0.45" stroke-width="0.6"/>
<line x1="557.96" y1="59.31" x2="557.96" y2="63.01" stroke="#fff" stroke-opacity="0.45" stroke-width="0.6"/>
<line x1="565.68" y1="59.31" x2="565.68" y2="63.01" stroke="#fff" stroke-opacity="0.45" stroke-width="0.6"/>
<rect x="573.33" y="203.15" width="61.88" height="3.7" fill="#000"/>
<line x1="577.26" y1="203.15" x2="577.26" y2="206.85" stroke="#fff" stroke-opacity="0.45" stroke-width="0.6"/>
<line x1="584.97" y1="203.15" x2="584.97" y2="206.85" stroke="#fff" stroke-opacity="0.45" stroke-width="0.6"/>
<line x1="592.69" y1="203.15" x2="592.69" y2="206.85" stroke="#fff" stroke-opacity="0.45" stroke-width="0.6"/>
<line x1="600.41" y1="203.15" x2="600.41" y2="206.85" stroke="#fff" stroke-opacity="0.45" stroke-width="0.6"/>
<line x1="608.13" y1="203.15" x2="608.13" y2="206.85" stroke="#fff" stroke-opacity="0.45" stroke-width="0.6"/>
<line x1="615.84" y1="203.15" x2="615.84" y2="206.85" stroke="#fff" stroke-opacity="0.45" stroke-width="0.6"/>
<line x1="623.56" y1="203.15" x2="623.56" y2="206.85" stroke="#fff" stroke-opacity="0.45" stroke-width="0.6"/>
<line x1="631.28" y1="203.15" x2="631.28" y2="206.85" stroke="#fff" stroke-opacity="0.45" stroke-width="0.6"/>
<polyline fill="none" stroke="#ff9a9a" stroke-width="0.8" stroke-linejoin="round" points="386.26,167.1 390.12,165.3 393.98,165.9 397.83,164.7 401.69,164.1 405.55,163.3 409.41,164.1 413.27,161.7 417.13,162.7 420.99,162.1 424.84,109.2 428.7,118.9 432.56,102.4 436.42,102.4 440.28,107.1 444.14,107.1 448,104.5 451.85,92.9 455.71,87.7 459.57,87.7 463.43,102 467.29,102 471.15,116.6 475.01,107 478.86,94.9 482.72,78.2 486.58,63.2 490.44,84.7 494.3,58.9 498.16,94.7 502.02,89.7 505.87,46.7 509.73,63.1 513.59,87.8 517.45,87.8 521.31,87.8 525.17,84.4 529.03,87.8 532.88,73.2 536.74,75.4 540.6,65.9 544.46,60.5 548.32,58.9 552.18,68.3 556.04,65.9 559.89,73.2 563.75,75.4 567.61,133.1 571.47,159.8 575.33,145.4 579.19,156.8 583.05,181.2 586.9,167.1 590.76,169.1 594.62,181.2 598.48,189 602.34,181.2 606.2,185.6 610.06,195.6 613.91,192.6 617.77,192.6 621.63,192.6 625.49,192.6 629.35,192.6 633.21,192.6" />
<circle cx="386.26" cy="167.1" r="2.2" fill="#ff0000"/>
<circle cx="390.12" cy="165.3" r="2.2" fill="#ff0000"/>
<circle cx="393.98" cy="165.9" r="2.2" fill="#ff0000"/>
<circle cx="397.83" cy="164.7" r="2.2" fill="#ff0000"/>
<circle cx="401.69" cy="164.1" r="2.2" fill="#ff0000"/>
<circle cx="405.55" cy="163.3" r="2.2" fill="#ff0000"/>
<circle cx="409.41" cy="164.1" r="2.2" fill="#ff0000"/>
<circle cx="413.27" cy="161.7" r="2.2" fill="#ff0000"/>
<circle cx="417.13" cy="162.7" r="2.2" fill="#ff0000"/>
<circle cx="420.99" cy="162.1" r="2.2" fill="#ff0000"/>
<circle cx="424.84" cy="109.2" r="2.2" fill="#ff0000"/>
<circle cx="428.7" cy="118.9" r="2.2" fill="#ff0000"/>
<circle cx="432.56" cy="102.4" r="2.2" fill="#ff0000"/>
<circle cx="436.42" cy="102.4" r="2.2" fill="#ff0000"/>
<circle cx="440.28" cy="107.1" r="2.2" fill="#ff0000"/>
<circle cx="444.14" cy="107.1" r="2.2" fill="#ff0000"/>
<circle cx="448" cy="104.5" r="2.2" fill="#ff0000"/>
<circle cx="451.85" cy="92.9" r="2.2" fill="#ff0000"/>
<circle cx="455.71" cy="87.7" r="2.2" fill="#ff0000"/>
<circle cx="459.57" cy="87.7" r="2.2" fill="#ff0000"/>
<circle cx="463.43" cy="102" r="2.2" fill="#ff0000"/>
<circle cx="467.29" cy="102" r="2.2" fill="#ff0000"/>
<circle cx="471.15" cy="116.6" r="2.2" fill="#ff0000"/>
<circle cx="475.01" cy="107" r="2.2" fill="#ff0000"/>
<circle cx="478.86" cy="94.9" r="2.2" fill="#ff0000"/>
<circle cx="482.72" cy="78.2" r="2.2" fill="#ff0000"/>
<circle cx="486.58" cy="63.2" r="2.2" fill="#ff0000"/>
<circle cx="490.44" cy="84.7" r="2.2" fill="#ff0000"/>
<circle cx="494.3" cy="58.9" r="2.2" fill="#ff0000"/>
<circle cx="498.16" cy="94.7" r="2.2" fill="#ff0000"/>
<circle cx="502.02" cy="89.7" r="2.2" fill="#ff0000"/>
<circle cx="505.87" cy="46.7" r="2.2" fill="#ff0000"/>
<circle cx="509.73" cy="63.1" r="2.2" fill="#ff0000"/>
<circle cx="513.59" cy="87.8" r="2.2" fill="#ff0000"/>
<circle cx="517.45" cy="87.8" r="2.2" fill="#ff0000"/>
<circle cx="521.31" cy="87.8" r="2.2" fill="#ff0000"/>
<circle cx="525.17" cy="84.4" r="2.2" fill="#ff0000"/>
<circle cx="529.03" cy="87.8" r="2.2" fill="#ff0000"/>
<circle cx="532.88" cy="73.2" r="2.2" fill="#ff0000"/>
<circle cx="536.74" cy="75.4" r="2.2" fill="#ff0000"/>
<circle cx="540.6" cy="65.9" r="2.2" fill="#ff0000"/>
<circle cx="544.46" cy="60.5" r="2.2" fill="#ff0000"/>
<circle cx="548.32" cy="58.9" r="2.2" fill="#ff0000"/>
<circle cx="552.18" cy="68.3" r="2.2" fill="#ff0000"/>
<circle cx="556.04" cy="65.9" r="2.2" fill="#ff0000"/>
<circle cx="559.89" cy="73.2" r="2.2" fill="#ff0000"/>
<circle cx="563.75" cy="75.4" r="2.2" fill="#ff0000"/>
<circle cx="567.61" cy="133.1" r="2.2" fill="#ff0000"/>
<circle cx="571.47" cy="159.8" r="2.2" fill="#ff0000"/>
<circle cx="575.33" cy="145.4" r="2.2" fill="#ff0000"/>
<circle cx="579.19" cy="156.8" r="2.2" fill="#ff0000"/>
<circle cx="583.05" cy="181.2" r="2.2" fill="#ff0000"/>
<circle cx="586.9" cy="167.1" r="2.2" fill="#ff0000"/>
<circle cx="590.76" cy="169.1" r="2.2" fill="#ff0000"/>
<circle cx="594.62" cy="181.2" r="2.2" fill="#ff0000"/>
<circle cx="598.48" cy="189" r="2.2" fill="#ff0000"/>
<circle cx="602.34" cy="181.2" r="2.2" fill="#ff0000"/>
<circle cx="606.2" cy="185.6" r="2.2" fill="#ff0000"/>
<circle cx="610.06" cy="195.6" r="2.2" fill="#ff0000"/>
<circle cx="613.91" cy="192.6" r="2.2" fill="#ff0000"/>
<circle cx="617.77" cy="192.6" r="2.2" fill="#ff0000"/>
<circle cx="621.63" cy="192.6" r="2.2" fill="#ff0000"/>
<circle cx="625.49" cy="192.6" r="2.2" fill="#ff0000"/>
<circle cx="629.35" cy="192.6" r="2.2" fill="#ff0000"/>
<circle cx="633.21" cy="192.6" r="2.2" fill="#ff0000"/>
<polyline fill="none" stroke="#8cf08c" stroke-width="0.8" stroke-linejoin="round" points="386.26,181.6 390.12,181.2 393.98,181.6 397.83,181 401.69,180.6 405.55,180 409.41,180.6 413.27,179.2 417.13,179.6 420.99,179.2 424.84,152.1 428.7,156.3 432.56,145.8 436.42,145.4 440.28,135.2 444.14,134.3 448,133.5 451.85,127.9 455.71,125.9 459.57,124.5 463.43,135.3 467.29,131 471.15,142 475.01,136.4 478.86,127.9 482.72,119.8 486.58,109.8 490.44,126.7 494.3,109.8 498.16,127.3 502.02,124.2 505.87,100.2 509.73,112.5 513.59,122.6 517.45,123.1 521.31,123.6 525.17,123.2 529.03,124.6 532.88,116 536.74,118.6 540.6,112.6 544.46,109.1 548.32,108.7 552.18,114 556.04,112.8 559.89,118.5 563.75,120.6 567.61,157.4 571.47,174.1 575.33,169.7 579.19,175.7 583.05,190.6 586.9,181.2 590.76,183.2 594.62,190.6 598.48,195 602.34,190.2 606.2,194.6 610.06,199.6 613.91,197.6 617.77,197.6 621.63,197.6 625.49,197.6 629.35,197.6 633.21,197.6" />
<path d="M386.26 179.48L388.61 183.72L383.91 183.72Z" fill="#00ee00"/>
<path d="M390.12 179.08L392.47 183.31L387.77 183.31Z" fill="#00ee00"/>
<path d="M393.98 179.48L396.33 183.72L391.63 183.72Z" fill="#00ee00"/>
<path d="M397.83 178.88L400.18 183.12L395.48 183.12Z" fill="#00ee00"/>
<path d="M401.69 178.48L404.04 182.72L399.34 182.72Z" fill="#00ee00"/>
<path d="M405.55 177.88L407.9 182.12L403.2 182.12Z" fill="#00ee00"/>
<path d="M409.41 178.48L411.76 182.72L407.06 182.72Z" fill="#00ee00"/>
<path d="M413.27 177.08L415.62 181.31L410.92 181.31Z" fill="#00ee00"/>
<path d="M417.13 177.48L419.48 181.72L414.78 181.72Z" fill="#00ee00"/>
<path d="M420.99 177.08L423.34 181.31L418.64 181.31Z" fill="#00ee00"/>
<path d="M424.84 149.98L427.19 154.22L422.49 154.22Z" fill="#00ee00"/>
<path d="M428.7 154.19L431.05 158.42L426.35 158.42Z" fill="#00ee00"/>
<path d="M432.56 143.69L434.91 147.92L430.21 147.92Z" fill="#00ee00"/>
<path d="M436.42 143.28L438.77 147.52L434.07 147.52Z" fill="#00ee00"/>
<path d="M440.28 133.08L442.63 137.31L437.93 137.31Z" fill="#00ee00"/>
<path d="M444.14 132.19L446.49 136.42L441.79 136.42Z" fill="#00ee00"/>
<path d="M448 131.38L450.35 135.62L445.65 135.62Z" fill="#00ee00"/>
<path d="M451.85 125.79L454.2 130.02L449.5 130.02Z" fill="#00ee00"/>
<path d="M455.71 123.79L458.06 128.02L453.36 128.02Z" fill="#00ee00"/>
<path d="M459.57 122.39L461.92 126.61L457.22 126.61Z" fill="#00ee00"/>
<path d="M463.43 133.19L465.78 137.42L461.08 137.42Z" fill="#00ee00"/>
<path d="M467.29 128.88L469.64 133.12L464.94 133.12Z" fill="#00ee00"/>
<path d="M471.15 139.88L473.5 144.12L468.8 144.12Z" fill="#00ee00"/>
<path d="M475.01 134.28L477.36 138.52L472.66 138.52Z" fill="#00ee00"/>
<path d="M478.86 125.79L481.21 130.02L476.51 130.02Z" fill="#00ee00"/>
<path d="M482.72 117.69L485.07 121.91L480.37 121.91Z" fill="#00ee00"/>
<path d="M486.58 107.69L488.93 111.91L484.23 111.91Z" fill="#00ee00"/>
<path d="M490.44 124.59L492.79 128.81L488.09 128.81Z" fill="#00ee00"/>
<path d="M494.3 107.69L496.65 111.91L491.95 111.91Z" fill="#00ee00"/>
<path d="M498.16 125.19L500.51 129.41L495.81 129.41Z" fill="#00ee00"/>
<path d="M502.02 122.09L504.37 126.31L499.67 126.31Z" fill="#00ee00"/>
<path d="M505.87 98.09L508.22 102.31L503.52 102.31Z" fill="#00ee00"/>
<path d="M509.73 110.39L512.08 114.61L507.38 114.61Z" fill="#00ee00"/>
<path d="M513.59 120.48L515.94 124.71L511.24 124.71Z" fill="#00ee00"/>
<path d="M517.45 120.98L519.8 125.21L515.1 125.21Z" fill="#00ee00"/>
<path d="M521.31 121.48L523.66 125.71L518.96 125.71Z" fill="#00ee00"/>
<path d="M525.17 121.09L527.52 125.31L522.82 125.31Z" fill="#00ee00"/>
<path d="M529.03 122.48L531.38 126.71L526.68 126.71Z" fill="#00ee00"/>
<path d="M532.88 113.89L535.23 118.11L530.53 118.11Z" fill="#00ee00"/>
<path d="M536.74 116.48L539.09 120.71L534.39 120.71Z" fill="#00ee00"/>
<path d="M540.6 110.48L542.95 114.71L538.25 114.71Z" fill="#00ee00"/>
<path d="M544.46 106.98L546.81 111.21L542.11 111.21Z" fill="#00ee00"/>
<path d="M548.32 106.59L550.67 110.81L545.97 110.81Z" fill="#00ee00"/>
<path d="M552.18 111.89L554.53 116.11L549.83 116.11Z" fill="#00ee00"/>
<path d="M556.04 110.69L558.39 114.91L553.69 114.91Z" fill="#00ee00"/>
<path d="M559.89 116.39L562.24 120.61L557.54 120.61Z" fill="#00ee00"/>
<path d="M563.75 118.48L566.1 122.71L561.4 122.71Z" fill="#00ee00"/>
<path d="M567.61 155.28L569.96 159.52L565.26 159.52Z" fill="#00ee00"/>
<path d="M571.47 171.98L573.82 176.22L569.12 176.22Z" fill="#00ee00"/>
<path d="M575.33 167.58L577.68 171.81L572.98 171.81Z" fill="#00ee00"/>
<path d="M579.19 173.58L581.54 177.81L576.84 177.81Z" fill="#00ee00"/>
<path d="M583.05 188.48L585.4 192.72L580.7 192.72Z" fill="#00ee00"/>
<path d="M586.9 179.08L589.25 183.31L584.55 183.31Z" fill="#00ee00"/>
<path d="M590.76 181.08L593.11 185.31L588.41 185.31Z" fill="#00ee00"/>
<path d="M594.62 188.48L596.97 192.72L592.27 192.72Z" fill="#00ee00"/>
<path d="M598.48 192.88L600.83 197.12L596.13 197.12Z" fill="#00ee00"/>
<path d="M602.34 188.08L604.69 192.31L599.99 192.31Z" fill="#00ee00"/>
<path d="M606.2 192.48L608.55 196.72L603.85 196.72Z" fill="#00ee00"/>
<path d="M610.06 197.48L612.41 201.72L607.71 201.72Z" fill="#00ee00"/>
<path d="M613.91 195.48L616.26 199.72L611.56 199.72Z" fill="#00ee00"/>
<path d="M617.77 195.48L620.12 199.72L615.42 199.72Z" fill="#00ee00"/>
<path d="M621.63 195.48L623.98 199.72L619.28 199.72Z" fill="#00ee00"/>
<path d="M625.49 195.48L627.84 199.72L623.14 199.72Z" fill="#00ee00"/>
<path d="M629.35 195.48L631.7 199.72L627 199.72Z" fill="#00ee00"/>
<path d="M633.21 195.48L635.56 199.72L630.86 199.72Z" fill="#00ee00"/>
<rect x="32.3" y="277.6" width="283.7" height="197.3" fill="none" stroke="#747474" stroke-width="1.5"/>
<line x1="50.03" y1="474.9" x2="50.03" y2="470.9" stroke="#747474" stroke-width="1" />
<line x1="67.76" y1="474.9" x2="67.76" y2="472.7" stroke="#747474" stroke-width="1" />
<line x1="85.49" y1="474.9" x2="85.49" y2="470.9" stroke="#747474" stroke-width="1" />
<line x1="103.22" y1="474.9" x2="103.22" y2="472.7" stroke="#747474" stroke-width="1" />
<line x1="120.96" y1="474.9" x2="120.96" y2="470.9" stroke="#747474" stroke-width="1" />
<line x1="138.69" y1="474.9" x2="138.69" y2="472.7" stroke="#747474" stroke-width="1" />
<line x1="156.42" y1="474.9" x2="156.42" y2="470.9" stroke="#747474" stroke-width="1" />
<line x1="174.15" y1="474.9" x2="174.15" y2="472.7" stroke="#747474" stroke-width="1" />
<line x1="191.88" y1="474.9" x2="191.88" y2="470.9" stroke="#747474" stroke-width="1" />
<line x1="209.61" y1="474.9" x2="209.61" y2="472.7" stroke="#747474" stroke-width="1" />
<line x1="227.34" y1="474.9" x2="227.34" y2="470.9" stroke="#747474" stroke-width="1" />
<line x1="245.07" y1="474.9" x2="245.07" y2="472.7" stroke="#747474" stroke-width="1" />
<line x1="262.81" y1="474.9" x2="262.81" y2="470.9" stroke="#747474" stroke-width="1" />
<line x1="280.54" y1="474.9" x2="280.54" y2="472.7" stroke="#747474" stroke-width="1" />
<line x1="298.27" y1="474.9" x2="298.27" y2="470.9" stroke="#747474" stroke-width="1" />
<text x="45.93" y="485.6" font-size="7.88" font-weight="normal" fill="#111" stroke="#111" stroke-width="0.4" textLength="8.21" lengthAdjust="spacingAndGlyphs">50</text>
<text x="81.35" y="485.6" font-size="7.88" font-weight="normal" fill="#111" stroke="#111" stroke-width="0.4" textLength="8.21" lengthAdjust="spacingAndGlyphs">60</text>
<text x="116.81" y="485.6" font-size="7.88" font-weight="normal" fill="#111" stroke="#111" stroke-width="0.4" textLength="8.21" lengthAdjust="spacingAndGlyphs">70</text>
<text x="152.3" y="485.6" font-size="7.88" font-weight="normal" fill="#111" stroke="#111" stroke-width="0.4" textLength="8.21" lengthAdjust="spacingAndGlyphs">80</text>
<text x="187.75" y="485.6" font-size="7.88" font-weight="normal" fill="#111" stroke="#111" stroke-width="0.4" textLength="8.21" lengthAdjust="spacingAndGlyphs">90</text>
<text x="221.05" y="485.6" font-size="7.88" font-weight="normal" fill="#111" stroke="#111" stroke-width="0.4" textLength="12.31" lengthAdjust="spacingAndGlyphs">100</text>
<text x="256.79" y="485.6" font-size="7.88" font-weight="normal" fill="#111" stroke="#111" stroke-width="0.4" textLength="11.76" lengthAdjust="spacingAndGlyphs">110</text>
<text x="291.98" y="485.6" font-size="7.88" font-weight="normal" fill="#111" stroke="#111" stroke-width="0.4" textLength="12.31" lengthAdjust="spacingAndGlyphs">120</text>
<line x1="32.3" y1="472.8" x2="36.3" y2="472.8" stroke="#747474" stroke-width="1" />
<line x1="32.3" y1="459.76" x2="34.5" y2="459.76" stroke="#747474" stroke-width="1" />
<line x1="32.3" y1="446.73" x2="36.3" y2="446.73" stroke="#747474" stroke-width="1" />
<line x1="32.3" y1="433.69" x2="34.5" y2="433.69" stroke="#747474" stroke-width="1" />
<line x1="32.3" y1="420.66" x2="36.3" y2="420.66" stroke="#747474" stroke-width="1" />
<line x1="32.3" y1="407.62" x2="34.5" y2="407.62" stroke="#747474" stroke-width="1" />
<line x1="32.3" y1="394.59" x2="36.3" y2="394.59" stroke="#747474" stroke-width="1" />
<line x1="32.3" y1="381.56" x2="34.5" y2="381.56" stroke="#747474" stroke-width="1" />
<line x1="32.3" y1="368.52" x2="36.3" y2="368.52" stroke="#747474" stroke-width="1" />
<line x1="32.3" y1="355.49" x2="34.5" y2="355.49" stroke="#747474" stroke-width="1" />
<line x1="32.3" y1="342.45" x2="36.3" y2="342.45" stroke="#747474" stroke-width="1" />
<line x1="32.3" y1="329.42" x2="34.5" y2="329.42" stroke="#747474" stroke-width="1" />
<line x1="32.3" y1="316.38" x2="36.3" y2="316.38" stroke="#747474" stroke-width="1" />
<line x1="32.3" y1="303.35" x2="34.5" y2="303.35" stroke="#747474" stroke-width="1" />
<line x1="32.3" y1="290.31" x2="36.3" y2="290.31" stroke="#747474" stroke-width="1" />
<text x="23.47" y="474.9" font-size="7.74" font-weight="normal" fill="#111" stroke="#111" stroke-width="0.4" textLength="4.34" lengthAdjust="spacingAndGlyphs">0</text>
<text x="14.8" y="448.83" font-size="7.74" font-weight="normal" fill="#111" stroke="#111" stroke-width="0.4" textLength="13.01" lengthAdjust="spacingAndGlyphs">100</text>
<text x="14.8" y="422.76" font-size="7.74" font-weight="normal" fill="#111" stroke="#111" stroke-width="0.4" textLength="13.01" lengthAdjust="spacingAndGlyphs">200</text>
<text x="14.8" y="396.69" font-size="7.74" font-weight="normal" fill="#111" stroke="#111" stroke-width="0.4" textLength="13.01" lengthAdjust="spacingAndGlyphs">300</text>
<text x="14.8" y="370.62" font-size="7.74" font-weight="normal" fill="#111" stroke="#111" stroke-width="0.4" textLength="13.01" lengthAdjust="spacingAndGlyphs">400</text>
<text x="14.8" y="344.55" font-size="7.74" font-weight="normal" fill="#111" stroke="#111" stroke-width="0.4" textLength="13.01" lengthAdjust="spacingAndGlyphs">500</text>
<text x="14.8" y="318.48" font-size="7.74" font-weight="normal" fill="#111" stroke="#111" stroke-width="0.4" textLength="13.01" lengthAdjust="spacingAndGlyphs">600</text>
<text x="14.8" y="292.41" font-size="7.74" font-weight="normal" fill="#111" stroke="#111" stroke-width="0.4" textLength="13.01" lengthAdjust="spacingAndGlyphs">700</text>
<line x1="316" y1="461.1" x2="313.8" y2="461.1" stroke="#747474" stroke-width="1" />
<line x1="316" y1="447" x2="312" y2="447" stroke="#747474" stroke-width="1" />
<line x1="316" y1="432.9" x2="313.8" y2="432.9" stroke="#747474" stroke-width="1" />
<line x1="316" y1="418.8" x2="312" y2="418.8" stroke="#747474" stroke-width="1" />
<line x1="316" y1="404.7" x2="313.8" y2="404.7" stroke="#747474" stroke-width="1" />
<line x1="316" y1="390.6" x2="312" y2="390.6" stroke="#747474" stroke-width="1" />
<line x1="316" y1="376.5" x2="313.8" y2="376.5" stroke="#747474" stroke-width="1" />
<line x1="316" y1="362.4" x2="312" y2="362.4" stroke="#747474" stroke-width="1" />
<line x1="316" y1="348.3" x2="313.8" y2="348.3" stroke="#747474" stroke-width="1" />
<line x1="316" y1="334.2" x2="312" y2="334.2" stroke="#747474" stroke-width="1" />
<line x1="316" y1="320.1" x2="313.8" y2="320.1" stroke="#747474" stroke-width="1" />
<line x1="316" y1="306" x2="312" y2="306" stroke="#747474" stroke-width="1" />
<line x1="316" y1="291.9" x2="313.8" y2="291.9" stroke="#747474" stroke-width="1" />
<line x1="316" y1="277.8" x2="312" y2="277.8" stroke="#747474" stroke-width="1" />
<text x="319.95" y="477.3" font-size="7.88" font-weight="normal" fill="#111" stroke="#111" stroke-width="0.4">-0.5</text>
<text x="319.99" y="449.1" font-size="7.88" font-weight="normal" fill="#111" stroke="#111" stroke-width="0.4">0.0</text>
<text x="319.99" y="420.9" font-size="7.88" font-weight="normal" fill="#111" stroke="#111" stroke-width="0.4">0.5</text>
<text x="319.7" y="392.7" font-size="7.88" font-weight="normal" fill="#111" stroke="#111" stroke-width="0.4">1.0</text>
<text x="319.7" y="364.5" font-size="7.99" font-weight="normal" fill="#111" stroke="#111" stroke-width="0.4">1.5</text>
<text x="319.91" y="336.3" font-size="7.88" font-weight="normal" fill="#111" stroke="#111" stroke-width="0.4">2.0</text>
<text x="319.91" y="308.1" font-size="7.88" font-weight="normal" fill="#111" stroke="#111" stroke-width="0.4">2.5</text>
<text x="320" y="279.9" font-size="7.88" font-weight="normal" fill="#111" stroke="#111" stroke-width="0.4">3.0</text>
<text x="135.38" y="498.1" font-size="8.28" font-weight="normal" fill="#111" stroke="#111" stroke-width="0.4" textLength="75.98" lengthAdjust="spacingAndGlyphs">Day of experiment</text>
<text transform="translate(7.9 380.7) rotate(-90)" font-size="9.67" font-family='"Liberation Sans", sans-serif' fill="#111" stroke="#111" stroke-width="0.4" text-anchor="middle">VFA concentrations(mg/L)</text>
<text x="18.8" y="266.4" font-size="14.5" text-anchor="start" font-weight="bold" font-family='"Liberation Serif", serif' fill="#111" >c</text>
<line x1="72.9" y1="415.5" x2="76.4" y2="393" stroke="#c4c4c4" stroke-width="1" />
<line x1="142.3" y1="387" x2="145.5" y2="365" stroke="#c4c4c4" stroke-width="1" />
<line x1="186.3" y1="359.5" x2="190" y2="337" stroke="#c4c4c4" stroke-width="1" />
<line x1="231.1" y1="337.5" x2="233.6" y2="442.5" stroke="#c4c4c4" stroke-width="1" />
<polyline fill="none" stroke="#ffb0b0" stroke-width="0.8" stroke-linejoin="round" points="53.58,440 57.12,436.5 60.67,435.5 64.22,425.7 67.76,405.6 71.31,398.3 74.85,390.8 78.4,389.3 81.95,382.2 85.49,365.9 89.04,342.1 92.59,343.5 96.13,330.4 99.68,321.5 103.22,335.1 106.77,368.4 110.32,383.3 113.86,361.1 117.41,401 120.96,407.6 124.5,408.2 128.05,413 131.59,420.5 135.14,432 138.69,419.5 142.23,428.7 145.78,338.4 149.33,385.5 152.87,382.7 156.42,384.3 159.96,380.5 163.51,408 167.06,429.5 170.6,418.7 174.15,399.6 177.7,375.2 181.24,373.9 184.79,367.4 188.33,392.4 191.88,379 195.43,360.6 198.97,366.1 202.52,376.2 206.07,375 209.61,378.2 213.16,369.9 216.7,361.5 220.25,326.5 223.8,302.9 227.34,293.3 230.89,295.5 234.44,306.4 237.98,343.2 241.53,310 245.07,292.9 248.62,295.5 252.17,305.8 255.71,314.4 259.26,321.7 262.81,328.7 266.35,334.7 269.9,337.3 273.44,361.5 276.99,371.5 280.54,369.9" />
<circle cx="53.58" cy="440" r="2.3" fill="#ff0000"/>
<circle cx="57.12" cy="436.5" r="2.3" fill="#ff0000"/>
<circle cx="60.67" cy="435.5" r="2.3" fill="#ff0000"/>
<circle cx="64.22" cy="425.7" r="2.3" fill="#ff0000"/>
<circle cx="67.76" cy="405.6" r="2.3" fill="#ff0000"/>
<circle cx="71.31" cy="398.3" r="2.3" fill="#ff0000"/>
<circle cx="74.85" cy="390.8" r="2.3" fill="#ff0000"/>
<circle cx="78.4" cy="389.3" r="2.3" fill="#ff0000"/>
<circle cx="81.95" cy="382.2" r="2.3" fill="#ff0000"/>
<circle cx="85.49" cy="365.9" r="2.3" fill="#ff0000"/>
<circle cx="89.04" cy="342.1" r="2.3" fill="#ff0000"/>
<circle cx="92.59" cy="343.5" r="2.3" fill="#ff0000"/>
<circle cx="96.13" cy="330.4" r="2.3" fill="#ff0000"/>
<circle cx="99.68" cy="321.5" r="2.3" fill="#ff0000"/>
<circle cx="103.22" cy="335.1" r="2.3" fill="#ff0000"/>
<circle cx="106.77" cy="368.4" r="2.3" fill="#ff0000"/>
<circle cx="110.32" cy="383.3" r="2.3" fill="#ff0000"/>
<circle cx="113.86" cy="361.1" r="2.3" fill="#ff0000"/>
<circle cx="117.41" cy="401" r="2.3" fill="#ff0000"/>
<circle cx="120.96" cy="407.6" r="2.3" fill="#ff0000"/>
<circle cx="124.5" cy="408.2" r="2.3" fill="#ff0000"/>
<circle cx="128.05" cy="413" r="2.3" fill="#ff0000"/>
<circle cx="131.59" cy="420.5" r="2.3" fill="#ff0000"/>
<circle cx="135.14" cy="432" r="2.3" fill="#ff0000"/>
<circle cx="138.69" cy="419.5" r="2.3" fill="#ff0000"/>
<circle cx="142.23" cy="428.7" r="2.3" fill="#ff0000"/>
<circle cx="145.78" cy="338.4" r="2.3" fill="#ff0000"/>
<circle cx="149.33" cy="385.5" r="2.3" fill="#ff0000"/>
<circle cx="152.87" cy="382.7" r="2.3" fill="#ff0000"/>
<circle cx="156.42" cy="384.3" r="2.3" fill="#ff0000"/>
<circle cx="159.96" cy="380.5" r="2.3" fill="#ff0000"/>
<circle cx="163.51" cy="408" r="2.3" fill="#ff0000"/>
<circle cx="167.06" cy="429.5" r="2.3" fill="#ff0000"/>
<circle cx="170.6" cy="418.7" r="2.3" fill="#ff0000"/>
<circle cx="174.15" cy="399.6" r="2.3" fill="#ff0000"/>
<circle cx="177.7" cy="375.2" r="2.3" fill="#ff0000"/>
<circle cx="181.24" cy="373.9" r="2.3" fill="#ff0000"/>
<circle cx="184.79" cy="367.4" r="2.3" fill="#ff0000"/>
<circle cx="188.33" cy="392.4" r="2.3" fill="#ff0000"/>
<circle cx="191.88" cy="379" r="2.3" fill="#ff0000"/>
<circle cx="195.43" cy="360.6" r="2.3" fill="#ff0000"/>
<circle cx="198.97" cy="366.1" r="2.3" fill="#ff0000"/>
<circle cx="202.52" cy="376.2" r="2.3" fill="#ff0000"/>
<circle cx="206.07" cy="375" r="2.3" fill="#ff0000"/>
<circle cx="209.61" cy="378.2" r="2.3" fill="#ff0000"/>
<circle cx="213.16" cy="369.9" r="2.3" fill="#ff0000"/>
<circle cx="216.7" cy="361.5" r="2.3" fill="#ff0000"/>
<circle cx="220.25" cy="326.5" r="2.3" fill="#ff0000"/>
<circle cx="223.8" cy="302.9" r="2.3" fill="#ff0000"/>
<circle cx="227.34" cy="293.3" r="2.3" fill="#ff0000"/>
<circle cx="230.89" cy="295.5" r="2.3" fill="#ff0000"/>
<circle cx="234.44" cy="306.4" r="2.3" fill="#ff0000"/>
<circle cx="237.98" cy="343.2" r="2.3" fill="#ff0000"/>
<circle cx="241.53" cy="310" r="2.3" fill="#ff0000"/>
<circle cx="245.07" cy="292.9" r="2.3" fill="#ff0000"/>
<circle cx="248.62" cy="295.5" r="2.3" fill="#ff0000"/>
<circle cx="252.17" cy="305.8" r="2.3" fill="#ff0000"/>
<circle cx="255.71" cy="314.4" r="2.3" fill="#ff0000"/>
<circle cx="259.26" cy="321.7" r="2.3" fill="#ff0000"/>
<circle cx="262.81" cy="328.7" r="2.3" fill="#ff0000"/>
<circle cx="266.35" cy="334.7" r="2.3" fill="#ff0000"/>
<circle cx="269.9" cy="337.3" r="2.3" fill="#ff0000"/>
<circle cx="273.44" cy="361.5" r="2.3" fill="#ff0000"/>
<circle cx="276.99" cy="371.5" r="2.3" fill="#ff0000"/>
<circle cx="280.54" cy="369.9" r="2.3" fill="#ff0000"/>
<rect x="34" y="416.9" width="40.5" height="3.8" fill="#000"/>
<rect x="74.2" y="388.6" width="69.2" height="3.8" fill="#000"/>
<rect x="143.4" y="360.4" width="44.6" height="3.8" fill="#000"/>
<rect x="188.3" y="331.9" width="44.4" height="3.8" fill="#000"/>
<rect x="232.7" y="445.1" width="65" height="3.8" fill="#000"/>
<rect x="381.2" y="277.4" width="269.6" height="197.9" fill="none" stroke="#747474" stroke-width="1.5"/>
<line x1="381.2" y1="461.17" x2="383.4" y2="461.17" stroke="#747474" stroke-width="1" />
<line x1="381.2" y1="447.03" x2="385.2" y2="447.03" stroke="#747474" stroke-width="1" />
<line x1="381.2" y1="432.89" x2="383.4" y2="432.89" stroke="#747474" stroke-width="1" />
<line x1="381.2" y1="418.76" x2="385.2" y2="418.76" stroke="#747474" stroke-width="1" />
<line x1="381.2" y1="404.62" x2="383.4" y2="404.62" stroke="#747474" stroke-width="1" />
<line x1="381.2" y1="390.49" x2="385.2" y2="390.49" stroke="#747474" stroke-width="1" />
<line x1="381.2" y1="376.36" x2="383.4" y2="376.36" stroke="#747474" stroke-width="1" />
<line x1="381.2" y1="362.22" x2="385.2" y2="362.22" stroke="#747474" stroke-width="1" />
<line x1="381.2" y1="348.09" x2="383.4" y2="348.09" stroke="#747474" stroke-width="1" />
<line x1="381.2" y1="333.95" x2="385.2" y2="333.95" stroke="#747474" stroke-width="1" />
<line x1="381.2" y1="319.81" x2="383.4" y2="319.81" stroke="#747474" stroke-width="1" />
<line x1="381.2" y1="305.68" x2="385.2" y2="305.68" stroke="#747474" stroke-width="1" />
<line x1="381.2" y1="291.55" x2="383.4" y2="291.55" stroke="#747474" stroke-width="1" />
<line x1="381.2" y1="277.41" x2="385.2" y2="277.41" stroke="#747474" stroke-width="1" />
<text x="371.56" y="477.3" font-size="7.45" font-weight="normal" fill="#111" stroke="#111" stroke-width="0.4">0</text>
<text x="363.3" y="449.03" font-size="7.45" font-weight="normal" fill="#111" stroke="#111" stroke-width="0.4">100</text>
<text x="363.3" y="420.76" font-size="7.45" font-weight="normal" fill="#111" stroke="#111" stroke-width="0.4">200</text>
<text x="363.3" y="392.49" font-size="7.45" font-weight="normal" fill="#111" stroke="#111" stroke-width="0.4">300</text>
<text x="363.3" y="364.22" font-size="7.45" font-weight="normal" fill="#111" stroke="#111" stroke-width="0.4">400</text>
<text x="363.3" y="335.95" font-size="7.45" font-weight="normal" fill="#111" stroke="#111" stroke-width="0.4">500</text>
<text x="363.3" y="307.68" font-size="7.45" font-weight="normal" fill="#111" stroke="#111" stroke-width="0.4">600</text>
<text x="363.3" y="279.41" font-size="7.45" font-weight="normal" fill="#111" stroke="#111" stroke-width="0.4">700</text>
<text x="388.29" y="485.6" font-size="7.7" font-weight="normal" fill="#111" stroke="#111" stroke-width="0.4" textLength="12.62" lengthAdjust="spacingAndGlyphs">T51</text>
<text x="418.69" y="485.6" font-size="7.59" font-weight="normal" fill="#111" stroke="#111" stroke-width="0.4" textLength="12.52" lengthAdjust="spacingAndGlyphs">T61</text>
<text x="448.42" y="485.6" font-size="7.59" font-weight="normal" fill="#111" stroke="#111" stroke-width="0.4" textLength="13.72" lengthAdjust="spacingAndGlyphs">T68</text>
<text x="478.72" y="485.6" font-size="7.59" font-weight="normal" fill="#111" stroke="#111" stroke-width="0.4" textLength="13.82" lengthAdjust="spacingAndGlyphs">T78</text>
<text x="509.38" y="485.6" font-size="7.59" font-weight="normal" fill="#111" stroke="#111" stroke-width="0.4" textLength="13.26" lengthAdjust="spacingAndGlyphs">T82</text>
<text x="539.73" y="485.6" font-size="7.59" font-weight="normal" fill="#111" stroke="#111" stroke-width="0.4" textLength="13.26" lengthAdjust="spacingAndGlyphs">T92</text>
<text x="569.77" y="485.6" font-size="7.59" font-weight="normal" fill="#111" stroke="#111" stroke-width="0.4" textLength="13.82" lengthAdjust="spacingAndGlyphs">T98</text>
<text x="598.28" y="485.6" font-size="7.59" font-weight="normal" fill="#111" stroke="#111" stroke-width="0.4">T104</text>
<text x="628.63" y="485.6" font-size="7.59" font-weight="normal" fill="#111" stroke="#111" stroke-width="0.4" textLength="17.53" lengthAdjust="spacingAndGlyphs">T113</text>
<text x="491.16" y="499.3" font-size="8.41" font-weight="normal" fill="#111" stroke="#111" stroke-width="0.4" textLength="17.96" lengthAdjust="spacingAndGlyphs">time</text>
<text x="514.69" y="499.3" font-size="8.41" font-weight="normal" fill="#111" stroke="#111" stroke-width="0.4" textLength="2.76" lengthAdjust="spacingAndGlyphs">(</text>
<text x="519.7" y="499.3" font-size="8.41" font-weight="normal" fill="#111" stroke="#111" stroke-width="0.4" textLength="15.53" lengthAdjust="spacingAndGlyphs">day</text>
<text x="537.25" y="499.3" font-size="8.41" font-weight="normal" fill="#111" stroke="#111" stroke-width="0.4" textLength="2.76" lengthAdjust="spacingAndGlyphs">)</text>
<text transform="translate(357.2 378) rotate(-90)" font-size="9.95" font-family='"Liberation Sans", sans-serif' fill="#111" stroke="#111" stroke-width="0.4" text-anchor="middle">VFA concentrations(mg/L)</text>
<text x="360.6" y="266.2" font-size="14.5" text-anchor="start" font-weight="bold" font-family='"Liberation Serif", serif' fill="#111" >d</text>
<polyline fill="none" stroke="#5a5a5a" stroke-width="1.1" stroke-linejoin="round" points="394.5,470.2 424.85,466.9 455.2,475.3 485.55,472 515.9,473.5 546.25,473.6 576.6,473.4 606.95,474.2 637.3,475" />
<polyline fill="none" stroke="#555" stroke-width="1.15" stroke-linejoin="round" points="394.5,467 424.85,447.6 455.2,446.8 485.55,451.4 515.9,465.7 546.25,447.6 576.6,446.7 606.95,429.2 637.3,450.1" />
<polyline fill="none" stroke="#555" stroke-width="1.15" stroke-linejoin="round" points="394.5,452.7 424.85,368.9 455.2,382.8 485.55,407.3 515.9,416.5 546.25,388.4 576.6,346.4 606.95,345.4 637.3,379.8" />
<rect x="392.45" y="450.65" width="4.1" height="4.1" fill="#000"/>
<rect x="422.8" y="366.85" width="4.1" height="4.1" fill="#000"/>
<rect x="453.15" y="380.75" width="4.1" height="4.1" fill="#000"/>
<rect x="483.5" y="405.25" width="4.1" height="4.1" fill="#000"/>
<rect x="513.85" y="414.45" width="4.1" height="4.1" fill="#000"/>
<rect x="544.2" y="386.35" width="4.1" height="4.1" fill="#000"/>
<rect x="574.55" y="344.35" width="4.1" height="4.1" fill="#000"/>
<rect x="604.9" y="343.35" width="4.1" height="4.1" fill="#000"/>
<rect x="635.25" y="377.75" width="4.1" height="4.1" fill="#000"/>
<circle cx="394.5" cy="467" r="2.2" fill="#000"/>
<circle cx="424.85" cy="447.6" r="2.2" fill="#000"/>
<circle cx="455.2" cy="446.8" r="2.2" fill="#000"/>
<circle cx="485.55" cy="451.4" r="2.2" fill="#000"/>
<circle cx="515.9" cy="465.7" r="2.2" fill="#000"/>
<circle cx="546.25" cy="447.6" r="2.2" fill="#000"/>
<circle cx="576.6" cy="446.7" r="2.2" fill="#000"/>
<circle cx="606.95" cy="429.2" r="2.2" fill="#000"/>
<circle cx="637.3" cy="450.1" r="2.2" fill="#000"/>
<path d="M394.5 467.86L397.1 472.54L391.9 472.54Z" fill="#000"/>
<path d="M424.85 464.56L427.45 469.24L422.25 469.24Z" fill="#000"/>
<path d="M455.2 472.96L457.8 477.64L452.6 477.64Z" fill="#000"/>
<path d="M485.55 469.66L488.15 474.34L482.95 474.34Z" fill="#000"/>
<path d="M515.9 471.16L518.5 475.84L513.3 475.84Z" fill="#000"/>
<path d="M546.25 471.26L548.85 475.94L543.65 475.94Z" fill="#000"/>
<path d="M576.6 471.06L579.2 475.74L574 475.74Z" fill="#000"/>
<path d="M606.95 471.86L609.55 476.54L604.35 476.54Z" fill="#000"/>
<path d="M637.3 472.66L639.9 477.34L634.7 477.34Z" fill="#000"/>
<rect x="428.3" y="287.0" width="83.4" height="37.5" fill="#fff" stroke="#888" stroke-width="0.8"/>
<line x1="434.6" y1="294.2" x2="441" y2="294.2" stroke="#777" stroke-width="1" />
<line x1="447.8" y1="294.2" x2="453.6" y2="294.2" stroke="#777" stroke-width="1" />
<path d="M444.4 292.22L446.6 296.18L442.2 296.18Z" fill="#000"/>
<text x="456.78" y="296.9" font-size="7.45" font-weight="normal" fill="#111" stroke="#111" stroke-width="0.4" textLength="40.44" lengthAdjust="spacingAndGlyphs">butyric acid</text>
<line x1="434.6" y1="304.7" x2="441" y2="304.7" stroke="#777" stroke-width="1" />
<line x1="447.8" y1="304.7" x2="453.6" y2="304.7" stroke="#777" stroke-width="1" />
<circle cx="444.4" cy="304.7" r="2" fill="#000"/>
<text x="456.78" y="307.3" font-size="7.45" font-weight="normal" fill="#111" stroke="#111" stroke-width="0.4" textLength="49.64" lengthAdjust="spacingAndGlyphs">propionic acid</text>
<line x1="434.6" y1="315.8" x2="441" y2="315.8" stroke="#777" stroke-width="1" />
<line x1="447.8" y1="315.8" x2="453.6" y2="315.8" stroke="#777" stroke-width="1" />
<rect x="442.6" y="314" width="3.6" height="3.6" fill="#000"/>
<text x="457.28" y="318.3" font-size="7.45" font-weight="normal" fill="#111" stroke="#111" stroke-width="0.4" textLength="38.02" lengthAdjust="spacingAndGlyphs">Acetic acid</text>
</svg>
</body></html>
